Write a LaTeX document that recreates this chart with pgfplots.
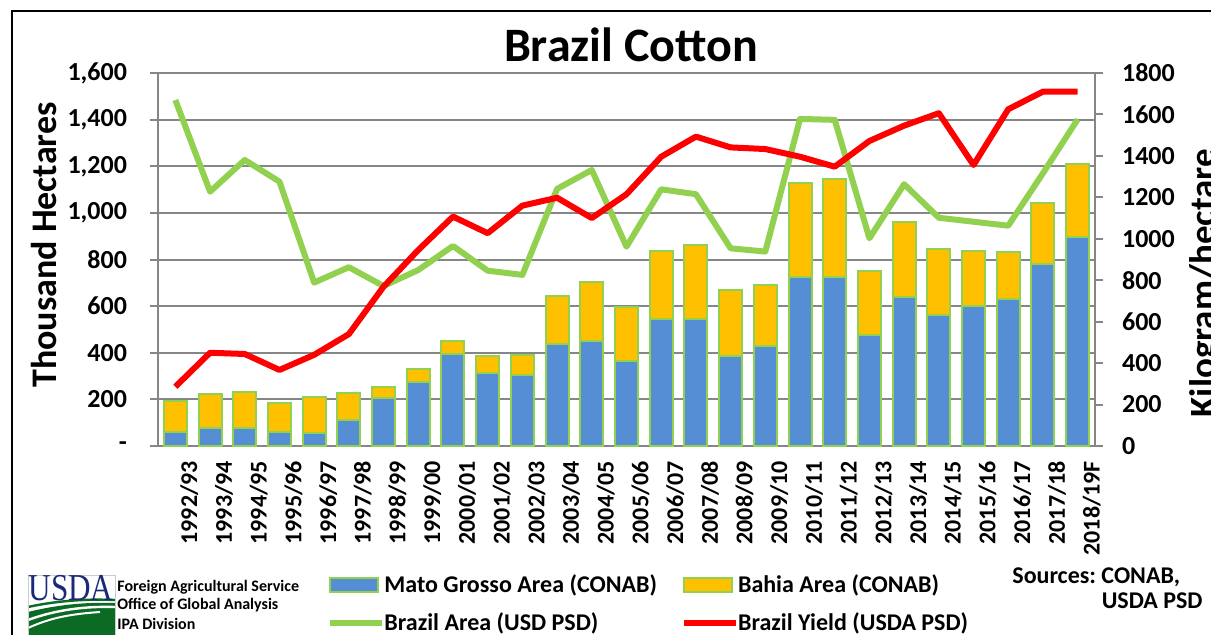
\documentclass[border=0pt]{standalone}
\usepackage{pgfplots}
\pgfplotsset{compat=1.18}
\usepackage{pgfplotstable}
\usepackage{fontspec}
\setmainfont{Carlito}
\newfontfamily\logofont{Liberation Serif}
\definecolor{mgblue}{HTML}{558ED5}
\definecolor{bayellow}{HTML}{FFC000}
\definecolor{brgreen}{HTML}{92D050}
\definecolor{gridgray}{HTML}{868686}
\definecolor{usdablue}{HTML}{1A2A78}
\definecolor{usdagreen}{HTML}{0B6B24}

\pgfplotstableread{
idx mato bahia area yield
0  61  133 1484 286
1  76  146 1091 450
2  76  157 1227 444
3  61  125 1134 367
4  54  155 701  440
5  112 114 767  540
6  205 49  686  769
7  273 57  755  946
8  393 57  858  1107
9  314 72  752  1027
10 305 85  734  1160
11 438 205 1103 1198
12 452 250 1184 1100
13 366 232 855  1215
14 544 293 1101 1396
15 544 318 1080 1493
16 387 284 848  1441
17 429 260 834  1433
18 724 403 1403 1396
19 724 420 1399 1348
20 476 276 891  1472
21 641 321 1123 1546
22 562 285 979  1606
23 602 235 962  1356
24 629 202 945  1625
25 781 260 1170 1710
26 895 313 1401 1710
}\datatable

\pgfplotsset{
  barleg/.style={legend image code/.code={\draw[##1] (0pt,-3.6pt) rectangle (24pt,3.6pt);}},
  lineleg/.style={legend image code/.code={\draw[##1] (0pt,0pt) -- (26pt,0pt);}},
  common/.style={
    at={(79pt,94pt)}, anchor=south west,
    scale only axis, width=468.5pt, height=186.5pt,
    xmin=-0.5, xmax=26.5,
    /pgf/number format/assume math mode=true,
  },
}

\begin{document}
\frenchspacing
\begin{tikzpicture}[x=0.5pt,y=0.5pt]
\useasboundingbox (0,0) rectangle (1211,634);
\draw[line width=1pt] (12,-20) -- (12,623) -- (1240,623);

% bars, grid, left axis, categories, legend
\begin{axis}[common,
  ymin=0, ymax=1600,
  axis x line*=bottom, axis y line*=left,
  axis line style={gridgray, line width=1pt},
  ytick={0,200,...,1600},
  yticklabels={-,200,400,600,800,{1,000},{1,200},{1,400},{1,600}},
  ymajorgrids, major grid style={gridgray, line width=1pt},
  tick align=outside, major tick length=4pt,
  ytick style={gridgray, line width=1pt},
  xtick={0,...,26},
  xticklabels={1992/93,1993/94,1994/95,1995/96,1996/97,1997/98,1998/99,1999/00,2000/01,2001/02,2002/03,2003/04,2004/05,2005/06,2006/07,2007/08,2008/09,2009/10,2010/11,2011/12,2012/13,2013/14,2014/15,2015/16,2016/17,2017/18,2018/19F},
  xtick style={draw=none},
  minor xtick={-0.5,0.5,...,26.5},
  minor tick length=4pt,
  minor x tick style={black, line width=0.8pt},
  x tick label style={rotate=90, anchor=east, yshift=-7pt, font=\fontsize{12}{12}\selectfont\bfseries},
  y tick label style={font=\fontsize{13}{13}\selectfont\bfseries, xshift=-8pt},
  ybar stacked, bar width=11.5pt,
  legend columns=2,
  legend cell align=left,
  legend style={at={(0.174,-0.322)}, anchor=north west, draw=none, fill=none,
    font=\fontsize{12}{12}\selectfont\bfseries,
    /tikz/every odd column/.append style={column sep=-2.5pt},
    /tikz/every even column/.append style={column sep=10pt},
    row sep=4.5pt},
]
\addplot[fill=mgblue, draw=brgreen, line width=1pt, barleg] table[x=idx, y=mato] {\datatable};
\addlegendentry{Mato Grosso Area (CONAB)}
\addplot[fill=bayellow, draw=brgreen, line width=1pt, barleg] table[x=idx, y=bahia] {\datatable};
\addlegendentry{Bahia Area (CONAB)}
\addlegendimage{lineleg, brgreen, line width=3pt}
\addlegendentry{Brazil Area (USD PSD)}
\addlegendimage{lineleg, red, line width=3pt}
\addlegendentry{Brazil Yield (USDA PSD)}
\end{axis}

% Brazil area line (left scale)
\begin{axis}[common, ymin=0, ymax=1600, hide axis]
\addplot[brgreen, line width=3pt, line join=round, mark=none] table[x=idx, y=area] {\datatable};
\end{axis}

% Yield line (right scale)
\begin{axis}[common, ymin=0, ymax=1800,
  axis x line=none, axis y line*=right,
  axis line style={gridgray, line width=1pt},
  ytick={0,200,...,1800},
  yticklabels={0,200,400,600,800,1000,1200,1400,1600,1800},
  tick align=outside, major tick length=4pt,
  ytick style={gridgray, line width=1pt},
  y tick label style={font=\fontsize{13}{13}\selectfont\bfseries, xshift=6pt},
]
\addplot[red, line width=3pt, line join=round, mark=none] table[x=idx, y=yield] {\datatable};
\end{axis}

% Title and axis titles
\node[font=\fontsize{24}{24}\selectfont\bfseries] at (631,589) {Brazil Cotton};
\node[rotate=90, anchor=north, inner sep=0pt, font=\fontsize{18}{18}\selectfont\bfseries] at (31,389) {Thousand Hectares};
\node[rotate=90, anchor=north, inner sep=0pt, font=\fontsize{18.5}{18.5}\selectfont\bfseries] at (1189,351) {Kilogram/hectare};

% USDA logo
\fill[white] (28,59) rectangle (115,-10);
\fill[usdagreen] (28,22) .. controls (60,30) and (90,32) .. (115,31) -- (115,-10) -- (28,-10) -- cycle;
\draw[usdagreen, line width=1.2pt] (28,27) .. controls (60,34) and (90,35) .. (115,34);
\draw[white, line width=1.2pt] (28,14) .. controls (55,24) and (85,28) .. (115,27);
\draw[white, line width=1pt] (28,6) .. controls (50,16) and (70,20) .. (100,22);
\draw[gray!40, line width=0.5pt] (28,59) rectangle (115,-10);
\node[font=\logofont\fontsize{19}{19}\selectfont, text=usdablue, xscale=0.82, inner sep=0pt] at (71,46) {USDA};
\node[anchor=west, inner sep=0pt, font=\fontsize{8}{8}\selectfont\bfseries] at (117,47) {Foreign Agricultural Service};
\node[anchor=west, inner sep=0pt, font=\fontsize{8}{8}\selectfont\bfseries] at (117,29) {Office of Global Analysis};
\node[anchor=west, inner sep=0pt, font=\fontsize{8}{8}\selectfont\bfseries] at (117,10) {IPA Division};

% Sources
\node[anchor=west, inner sep=0pt, font=\fontsize{12}{12}\selectfont\bfseries] at (1012,57) {Sources: CONAB,};
\node[anchor=east, inner sep=0pt, font=\fontsize{12}{12}\selectfont\bfseries] at (1203,33) {USDA PSD};
\end{tikzpicture}
\end{document}
